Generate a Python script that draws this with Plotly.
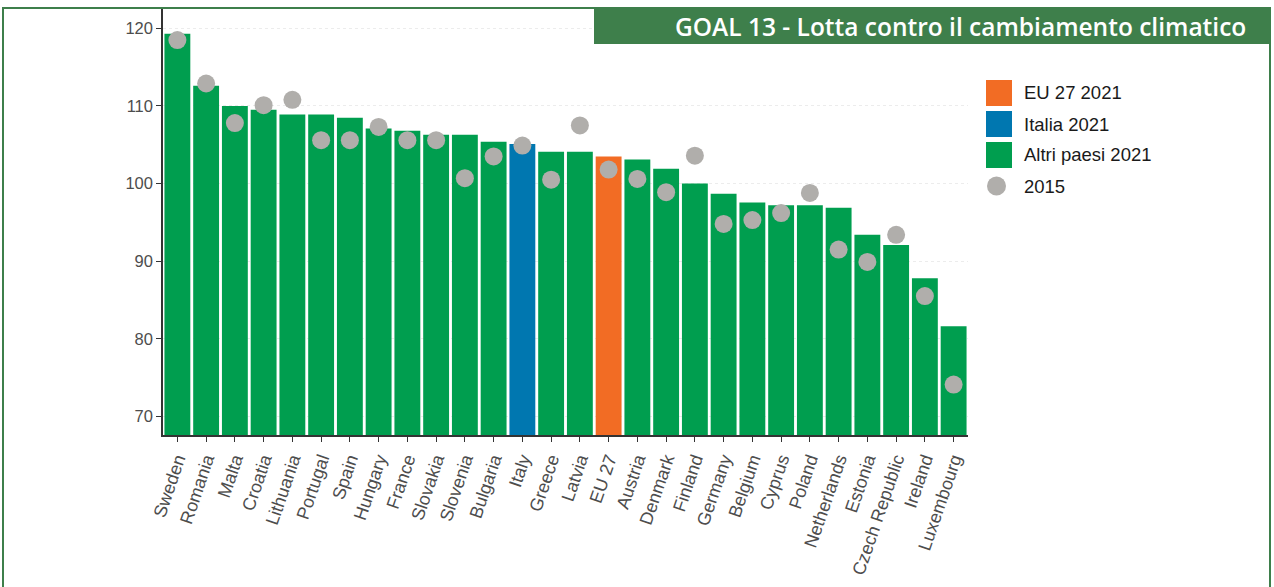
import plotly.graph_objects as go

countries = ["Sweden", "Romania", "Malta", "Croatia", "Lithuania", "Portugal", "Spain",
             "Hungary", "France", "Slovakia", "Slovenia", "Bulgaria", "Italy", "Greece",
             "Latvia", "EU 27", "Austria", "Denmark", "Finland", "Germany", "Belgium",
             "Cyprus", "Poland", "Netherlands", "Estonia", "Czech Republic", "Ireland",
             "Luxembourg"]
values_2021 = [119.3, 112.6, 110.0, 109.5, 108.9, 108.9, 108.5, 107.1, 106.8, 106.3,
               106.3, 105.4, 105.1, 104.1, 104.1, 103.5, 103.1, 101.9, 100.0, 98.7,
               97.55, 97.2, 97.2, 96.9, 93.4, 92.1, 87.8, 81.6]
values_2015 = [118.5, 112.9, 107.8, 110.1, 110.8, 105.6, 105.6, 107.3, 105.6, 105.6,
               100.7, 103.5, 104.9, 100.5, 107.5, 101.8, 100.6, 98.9, 103.6, 94.8,
               95.3, 96.2, 98.8, 91.5, 89.9, 93.4, 85.5, 74.1]
legend_labels = ["EU 27 2021", "Italia 2021", "Altri paesi 2021", "2015"]
y_ticks = [70, 80, 90, 100, 110, 120]

GREEN = "#009e4f"
BLUE = "#0077b0"
ORANGE = "#f26c24"
GREY = "#b0aeab"
FRAME = "#3e7f4b"

bar_colors = [ORANGE if c == "EU 27" else BLUE if c == "Italy" else GREEN for c in countries]

fig = go.Figure()

fig.add_trace(go.Bar(
    x=countries, y=values_2021,
    marker=dict(color=bar_colors, line=dict(width=0)),
    showlegend=False
))

fig.add_trace(go.Scatter(
    x=countries, y=values_2015,
    mode="markers",
    marker=dict(size=18, color=GREY),
    showlegend=False
))

# plot area in pixels: x 163..968, y 9..435
L, R, T, B = 163, 968, 9, 435
W, H = R - L, B - T


def px(x):
    return (x - L) / W


def py(y):
    return (B - y) / H


shapes = [
    # outer frame
    dict(type="rect", xref="paper", yref="paper", x0=px(3), x1=px(1270), y0=py(8), y1=py(600),
         line=dict(color=FRAME, width=2), fillcolor="rgba(0,0,0,0)", layer="below"),
    # title box
    dict(type="rect", xref="paper", yref="paper", x0=px(594), x1=px(1270), y0=py(8), y1=py(44),
         line=dict(width=0), fillcolor=FRAME),
]
annotations = [
    dict(text="GOAL 13 - Lotta contro il cambiamento climatico", xref="paper", yref="paper",
         x=px(1248), y=py(26), xanchor="right", yanchor="middle", showarrow=False,
         font=dict(family="Open Sans", size=24.5, weight=600, color="white")),
]

# legend drawn by hand (large swatches)
swatch_colors = [ORANGE, BLUE, GREEN]
for i, (lab, col) in enumerate(zip(legend_labels[:3], swatch_colors)):
    yc = 93 + 31 * i
    shapes.append(dict(type="rect", xref="paper", yref="paper", x0=px(986), x1=px(1012),
                       y0=py(yc - 13), y1=py(yc + 13), line=dict(width=0), fillcolor=col))
yc = 186
shapes.append(dict(type="circle", xref="paper", yref="paper", x0=px(987), x1=px(1006),
                   y0=py(yc - 9.5), y1=py(yc + 9.5), line=dict(width=0), fillcolor=GREY))
for i, lab in enumerate(legend_labels):
    annotations.append(dict(text=lab, xref="paper", yref="paper", x=px(1022), y=py(93 + 31 * i),
                            xanchor="left", yanchor="middle", showarrow=False,
                            font=dict(family="Liberation Sans", size=18.5, color="#1a1a1a")))

fig.update_layout(
    width=1274, height=587,
    margin=dict(l=L, r=1274 - R, t=T, b=587 - B),
    plot_bgcolor="white", paper_bgcolor="white",
    bargap=0.1,
    shapes=shapes,
    annotations=annotations,
    font=dict(family="Liberation Sans", color="#4d4d4d"),
    xaxis=dict(
        tickangle=-71, tickfont=dict(size=18, color="#4d4d4d"),
        showline=True, linecolor="#333333", linewidth=1.5,
        ticks="outside", ticklen=5, tickcolor="#333333",
        showgrid=False, range=[-0.5, len(countries) - 0.5],
    ),
    yaxis=dict(
        range=[67.6, 122.5], tickvals=y_ticks,
        tickfont=dict(size=16.5, color="#4d4d4d"),
        showline=True, linecolor="#333333", linewidth=1.5,
        ticks="outside", ticklen=5, tickcolor="#333333",
        showgrid=True, gridcolor="#ececec", griddash="dot", gridwidth=1,
        zeroline=False,
    ),
)

fig.write_html("out.html", config={"displayModeBar": False},
               post_script="document.body.style.margin='0';")
